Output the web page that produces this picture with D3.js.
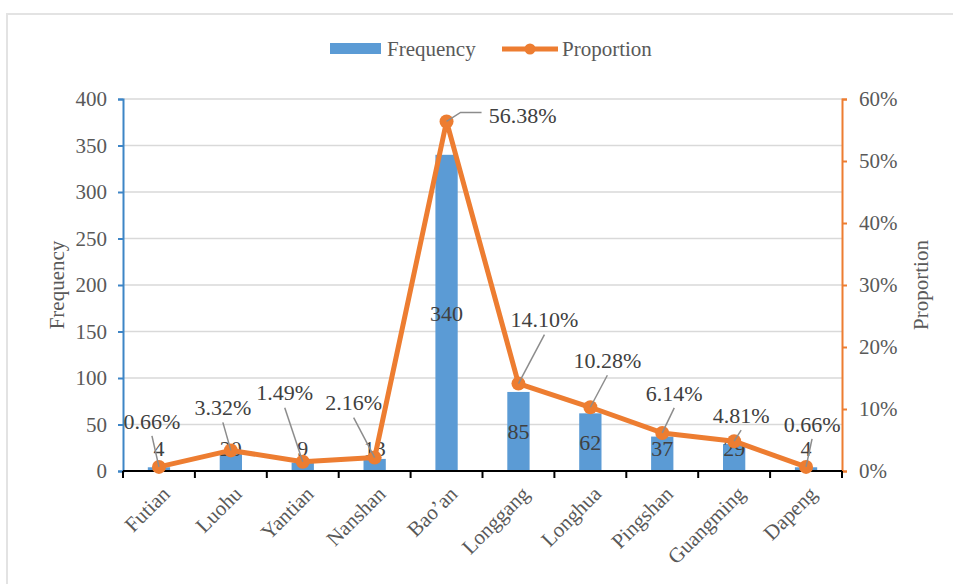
<!DOCTYPE html>
<html>
<head>
<meta charset="utf-8">
<script src="https://cdn.jsdelivr.net/npm/d3@7"></script>
<style>
  html, body { margin: 0; padding: 0; background: #fff; }
  svg { display: block; font-family: "Liberation Serif", "Times New Roman", serif; }
  .tick text { fill: #595959; }
</style>
</head>
<body>
<div id="chart"></div>
<script>
const districts = ["Futian", "Luohu", "Yantian", "Nanshan", "Bao\u2019an", "Longgang", "Longhua", "Pingshan", "Guangming", "Dapeng"];
const frequency = [4, 20, 9, 13, 340, 85, 62, 37, 29, 4];
const proportion = [0.66, 3.32, 1.49, 2.16, 56.38, 14.10, 10.28, 6.14, 4.81, 0.66];
const freqTicks = [0, 50, 100, 150, 200, 250, 300, 350, 400];
const pctTicks = [0, 10, 20, 30, 40, 50, 60];

// hand placed label offsets (layout, relative to the marker)
const labelOffsets = [[-7, -46], [-8, -43], [-18, -69], [-21, -55], [76, -6], [26, -64], [17, -47], [12, -40], [7, -26], [6, -43]];

const width = 953, height = 586;
const margin = { top: 99, right: 111, bottom: 115, left: 123 };
const innerWidth = width - margin.left - margin.right;
const innerHeight = height - margin.top - margin.bottom;
const blue = "#5b9bd5", orange = "#ed7d31", grey = "#595959";
const fs = 21;

const svg = d3.select("#chart").append("svg").attr("width", width).attr("height", height);

// outer frame
svg.append("path").attr("d", "M7,584V14H953")
  .attr("fill", "none").attr("stroke", "#e3e3e3").attr("stroke-width", 2);

const g = svg.append("g").attr("transform", `translate(${margin.left},${margin.top})`);

const x = d3.scaleBand().domain(districts).range([0, innerWidth]).paddingInner(0.69).paddingOuter(0.345);
const xc = (i) => x(districts[i]) + x.bandwidth() / 2;
const yL = d3.scaleLinear().domain([0, 400]).range([innerHeight, 0]);
const yR = d3.scaleLinear().domain([0, 60]).range([innerHeight, 0]);

// grid
g.append("g").selectAll("line").data(freqTicks.filter((d) => d > 0)).join("line")
  .attr("x1", 0).attr("x2", innerWidth).attr("y1", (d) => yL(d)).attr("y2", (d) => yL(d))
  .attr("stroke", "#d9d9d9").attr("stroke-width", 1.3);

// bars
g.append("g").selectAll("rect").data(frequency).join("rect")
  .attr("x", (d, i) => x(districts[i])).attr("width", x.bandwidth())
  .attr("y", (d) => yL(d)).attr("height", (d) => innerHeight - yL(d))
  .attr("fill", blue);

// left axis
const axL = g.append("g").call(d3.axisLeft(yL).tickValues(freqTicks).tickSize(5).tickPadding(11));
axL.selectAll("path, line").attr("stroke", "#3d85c6").attr("stroke-width", 2);
axL.selectAll("text").attr("font-size", fs).attr("font-family", "Liberation Serif");

// right axis
const axR = g.append("g").attr("transform", `translate(${innerWidth},0)`)
  .call(d3.axisRight(yR).tickValues(pctTicks).tickSize(5).tickPadding(12).tickFormat((d) => d + "%"));
axR.selectAll("path, line").attr("stroke", orange).attr("stroke-width", 2);
axR.selectAll("text").attr("font-size", fs).attr("font-family", "Liberation Serif");

// x axis with ticks at band boundaries
const xAx = g.append("g").attr("transform", `translate(0,${innerHeight})`);
xAx.append("line").attr("x1", 0).attr("x2", innerWidth).attr("stroke", "#000").attr("stroke-width", 2);
const step = x.step();
xAx.selectAll("line.tk").data(d3.range(districts.length + 1)).join("line").attr("class", "tk")
  .attr("x1", (i) => i * step).attr("x2", (i) => i * step).attr("y1", 0).attr("y2", 7)
  .attr("stroke", "#000").attr("stroke-width", 2);
xAx.selectAll("text").data(districts).join("text")
  .attr("transform", (d, i) => `translate(${xc(i) + 7},${19}) rotate(-45)`)
  .attr("text-anchor", "end").attr("dy", "0.35em")
  .attr("font-size", fs).attr("fill", grey).text((d) => d);

// frequency labels
g.append("g").selectAll("text").data(frequency).join("text")
  .attr("x", (d, i) => xc(i))
  .attr("y", (d) => Math.min((yL(d) + innerHeight) / 2, innerHeight - 23))
  .attr("text-anchor", "middle").attr("dy", "0.35em")
  .attr("font-size", 22).attr("fill", "#404040").text((d) => d);

// proportion line
const line = d3.line().x((d, i) => xc(i)).y((d) => yR(d));
g.append("path").datum(proportion).attr("d", line)
  .attr("fill", "none").attr("stroke", orange).attr("stroke-width", 5).attr("stroke-linejoin", "round");
g.append("g").selectAll("circle").data(proportion).join("circle")
  .attr("cx", (d, i) => xc(i)).attr("cy", (d) => yR(d)).attr("r", 7).attr("fill", orange);

// leader lines and proportion labels
const leaders = g.append("g");
const pLabels = g.append("g");
proportion.forEach((p, i) => {
  const mx = xc(i), my = yR(p);
  const [dx, dy] = labelOffsets[i];
  const lx = mx + dx, ly = my + dy;
  if (Math.abs(dx) > 40) {
    leaders.append("path")
      .attr("d", `M${lx - 41},${ly - 3}H${mx + 14}L${mx},${my}`)
      .attr("fill", "none").attr("stroke", "#8c8c8c").attr("stroke-width", 1.5);
  } else {
    leaders.append("line").attr("x1", lx).attr("y1", ly + 15).attr("x2", mx).attr("y2", my)
      .attr("stroke", "#8c8c8c").attr("stroke-width", 1.5);
  }
  pLabels.append("text").attr("x", lx).attr("y", ly).attr("dy", "0.35em")
    .attr("text-anchor", "middle").attr("font-size", 22).attr("fill", "#404040")
    .text(p.toFixed(2) + "%");
});

// axis titles
svg.append("text").attr("transform", `translate(57,${margin.top + innerHeight / 2}) rotate(-90)`)
  .attr("text-anchor", "middle").attr("dy", "0.35em").attr("font-size", fs).attr("fill", grey).text("Frequency");
svg.append("text").attr("transform", `translate(921,${margin.top + innerHeight / 2}) rotate(-90)`)
  .attr("text-anchor", "middle").attr("dy", "0.35em").attr("font-size", fs).attr("fill", grey).text("Proportion");

// legend
const legend = svg.append("g").attr("transform", "translate(0,49)");
legend.append("rect").attr("x", 330).attr("y", -6).attr("width", 51).attr("height", 11).attr("fill", blue);
legend.append("text").attr("x", 387).attr("dy", "0.35em").attr("font-size", fs).attr("fill", grey).text("Frequency");
legend.append("line").attr("x1", 502).attr("x2", 558).attr("stroke", orange).attr("stroke-width", 5);
legend.append("circle").attr("cx", 530).attr("r", 5.5).attr("fill", orange);
legend.append("text").attr("x", 562).attr("dy", "0.35em").attr("font-size", fs).attr("fill", grey).text("Proportion");
</script>
</body>
</html>
